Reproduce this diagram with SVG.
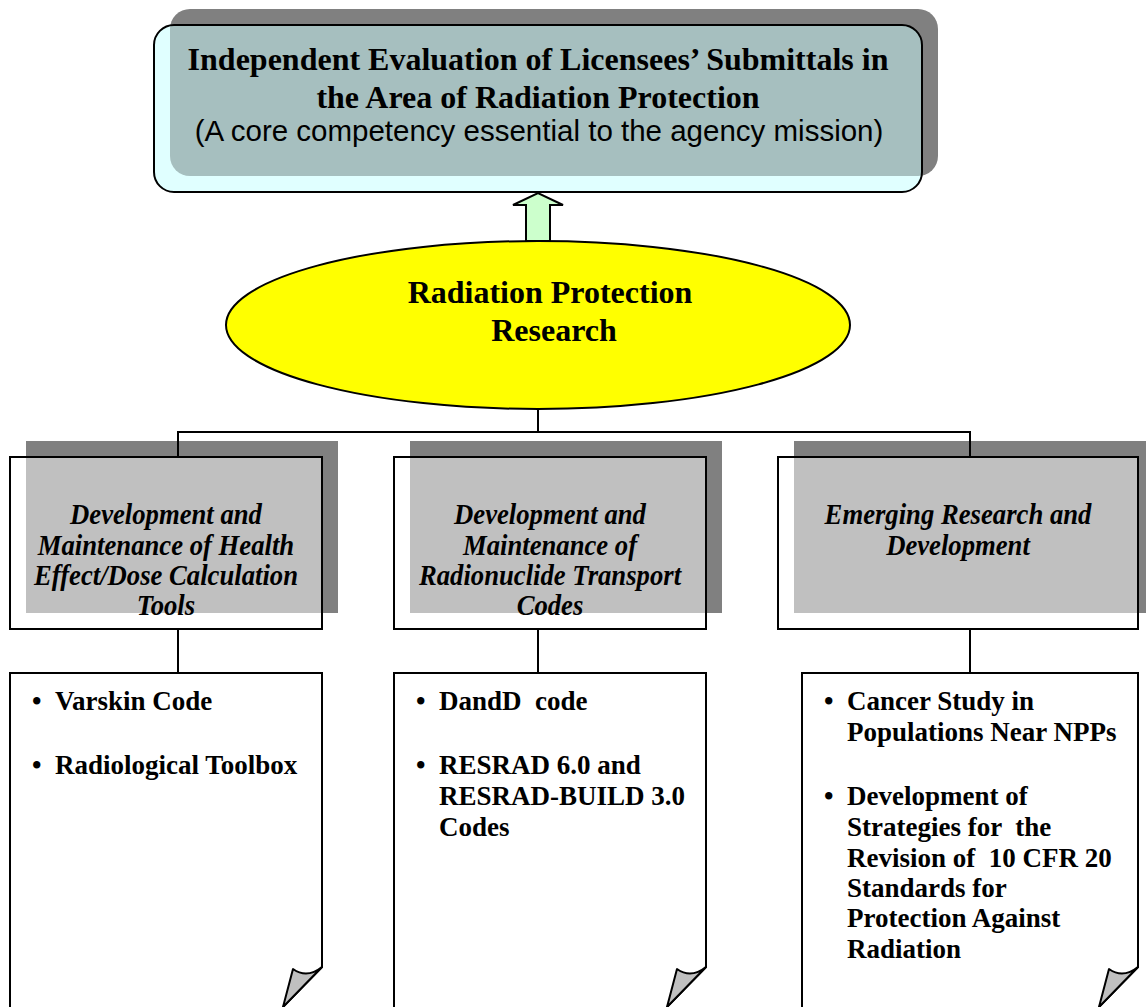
<svg xmlns="http://www.w3.org/2000/svg" width="1146" height="1007" viewBox="0 0 1146 1007">
  <defs>
    <style>
      .shadow { fill: #808080; }
      .edge { fill: none; stroke: #000; stroke-width: 2; }
      .wire { fill: none; stroke: #000; stroke-width: 2; }
      .title { font-family: "Liberation Serif", "Times New Roman", serif; font-weight: bold; font-size: 32px; text-anchor: middle; fill: #000; }
      .sub { font-family: "Liberation Sans", Arial, sans-serif; font-size: 29.5px; text-anchor: middle; fill: #000; }
      .hub { font-family: "Liberation Serif", "Times New Roman", serif; font-weight: bold; font-size: 32px; text-anchor: middle; fill: #000; }
      .area { font-family: "Liberation Serif", "Times New Roman", serif; font-weight: bold; font-style: italic; font-size: 30px; text-anchor: middle; fill: #000; }
      .item { font-family: "Liberation Serif", "Times New Roman", serif; font-weight: bold; font-size: 27px; fill: #000; white-space: pre; }
      .page { fill: #fff; stroke: #000; stroke-width: 2; }
      .flap { fill: #c0c0c0; stroke: #000; stroke-width: 2; stroke-linejoin: round; }
    </style>
    <clipPath id="clip-top"><rect x="154" y="25" width="768" height="167" rx="20"/></clipPath>
    <clipPath id="clip-a1"><rect x="10" y="457" width="312" height="172"/></clipPath>
    <clipPath id="clip-a2"><rect x="394" y="457" width="312" height="172"/></clipPath>
    <clipPath id="clip-a3"><rect x="778" y="457" width="360" height="172"/></clipPath>
  </defs>

  <!-- goal box -->
  <g id="goal">
    <rect class="shadow" x="170" y="9" width="768" height="167" rx="20"/>
    <rect x="154" y="25" width="768" height="167" rx="20" fill="#e0ffff"/>
    <rect x="170" y="9" width="768" height="167" rx="20" fill="#a6bfbf" clip-path="url(#clip-top)"/>
    <rect class="edge" x="154" y="25" width="768" height="167" rx="20"/>
    <text class="title" x="538" y="70">Independent Evaluation of Licensees’ Submittals in</text>
    <text class="title" x="538" y="108">the Area of Radiation Protection</text>
    <text class="sub" x="539" y="141">(A core competency essential to the agency mission)</text>
  </g>

  <!-- up arrow -->
  <g id="arrow-up">
    <path d="M526,241 V205 H513 L538,193 L563,205 H550 V241 Z" fill="#ccffcc" stroke="#000" stroke-width="2" stroke-linejoin="miter"/>
  </g>

  <!-- research hub -->
  <g id="research">
    <ellipse cx="538" cy="325" rx="312" ry="84" fill="#ffff00" stroke="#000" stroke-width="2"/>
    <text class="hub" x="550" y="303">Radiation Protection</text>
    <text class="hub" x="554" y="341">Research</text>
  </g>

  <!-- research areas -->
  <g id="area-dose">
    <rect class="shadow" x="26" y="441" width="312" height="172"/>
    <rect x="10" y="457" width="312" height="172" fill="#fff"/>
    <rect x="26" y="441" width="312" height="172" fill="#c0c0c0" clip-path="url(#clip-a1)"/>
    <rect class="edge" x="10" y="457" width="312" height="172"/>
    <g transform="translate(166,0) scale(0.89,1)">
      <text class="area" x="0" y="524">Development and</text>
      <text class="area" x="0" y="555">Maintenance of Health</text>
      <text class="area" x="0" y="585">Effect/Dose Calculation</text>
      <text class="area" x="0" y="615">Tools</text>
    </g>
  </g>

  <g id="area-transport">
    <rect class="shadow" x="410" y="441" width="312" height="172"/>
    <rect x="394" y="457" width="312" height="172" fill="#fff"/>
    <rect x="410" y="441" width="312" height="172" fill="#c0c0c0" clip-path="url(#clip-a2)"/>
    <rect class="edge" x="394" y="457" width="312" height="172"/>
    <g transform="translate(550,0) scale(0.89,1)">
      <text class="area" x="0" y="524">Development and</text>
      <text class="area" x="0" y="555">Maintenance of</text>
      <text class="area" x="0" y="585">Radionuclide Transport</text>
      <text class="area" x="0" y="615">Codes</text>
    </g>
  </g>

  <g id="area-emerging">
    <rect class="shadow" x="794" y="441" width="360" height="172"/>
    <rect x="778" y="457" width="360" height="172" fill="#fff"/>
    <rect x="794" y="441" width="360" height="172" fill="#c0c0c0" clip-path="url(#clip-a3)"/>
    <rect class="edge" x="778" y="457" width="360" height="172"/>
    <g transform="translate(958,0) scale(0.89,1)">
      <text class="area" x="0" y="524">Emerging Research and</text>
      <text class="area" x="0" y="555">Development</text>
    </g>
  </g>

  <!-- project lists -->
  <g id="list-dose">
    <path class="page" d="M10,1012 V673 H322 V967 L283,1007"/>
    <path class="flap" d="M322,967 Q307,979 293,969 L283,1007 Z"/>
    <text class="item" x="32" y="710">•</text>
    <text class="item" x="55" y="710">Varskin Code</text>
    <text class="item" x="32" y="774">•</text>
    <text class="item" x="55" y="774">Radiological Toolbox</text>
  </g>

  <g id="list-transport">
    <path class="page" d="M394,1012 V673 H706 V967 L667,1007"/>
    <path class="flap" d="M706,967 Q691,979 677,969 L667,1007 Z"/>
    <text class="item" x="416" y="710">•</text>
    <text class="item" x="439" y="710" xml:space="preserve">DandD  code</text>
    <text class="item" x="416" y="774">•</text>
    <text class="item" x="439" y="774">RESRAD 6.0 and</text>
    <text class="item" x="439" y="805">RESRAD-BUILD 3.0</text>
    <text class="item" x="439" y="836">Codes</text>
  </g>

  <g id="list-emerging">
    <path class="page" d="M802,1012 V673 H1138 V967 L1099,1007"/>
    <path class="flap" d="M1138,967 Q1123,979 1109,969 L1099,1007 Z"/>
    <text class="item" x="824" y="710">•</text>
    <text class="item" x="847" y="710">Cancer Study in</text>
    <text class="item" x="847" y="741">Populations Near NPPs</text>
    <text class="item" x="824" y="805">•</text>
    <text class="item" x="847" y="805">Development of</text>
    <text class="item" x="847" y="836" xml:space="preserve">Strategies for  the</text>
    <text class="item" x="847" y="867" xml:space="preserve">Revision of  10 CFR 20</text>
    <text class="item" x="847" y="897">Standards for</text>
    <text class="item" x="847" y="927">Protection Against</text>
    <text class="item" x="847" y="958">Radiation</text>
  </g>

  <!-- connectors -->
  <g id="connectors">
    <path class="wire" d="M538,409 V432 M178,457 V432 H970 V457"/>
    <path class="wire" d="M178,629 V673"/>
    <path class="wire" d="M538,629 V673"/>
    <path class="wire" d="M970,629 V673"/>
  </g>
</svg>
